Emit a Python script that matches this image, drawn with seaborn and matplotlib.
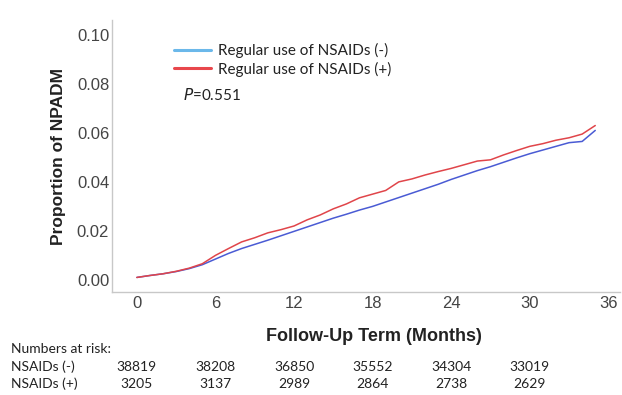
import numpy as np
import pandas as pd
import matplotlib
matplotlib.use("Agg")
import matplotlib.pyplot as plt
from matplotlib.lines import Line2D
from matplotlib.transforms import blended_transform_factory
import seaborn as sns

# Cumulative proportion of NPADM by month of follow-up
months = list(range(36))
nsaids_neg = [0.0010, 0.0018, 0.0025, 0.0034, 0.0046, 0.0062, 0.0085, 0.0108,
              0.0128, 0.0145, 0.0162, 0.0180, 0.0198, 0.0216, 0.0234, 0.0252,
              0.0268, 0.0285, 0.0300, 0.0318, 0.0336, 0.0354, 0.0372, 0.0390,
              0.0410, 0.0428, 0.0446, 0.0462, 0.0480, 0.0498, 0.0515, 0.0530,
              0.0545, 0.0560, 0.0565, 0.0610]
nsaids_pos = [0.0010, 0.0018, 0.0025, 0.0035, 0.0048, 0.0066, 0.0100, 0.0128,
              0.0155, 0.0172, 0.0192, 0.0205, 0.0220, 0.0245, 0.0265, 0.0290,
              0.0310, 0.0335, 0.0350, 0.0365, 0.0400, 0.0412, 0.0428, 0.0442,
              0.0455, 0.0470, 0.0485, 0.0490, 0.0510, 0.0528, 0.0545, 0.0556,
              0.0570, 0.0580, 0.0595, 0.0630]

group_labels = ["Regular use of NSAIDs (-)", "Regular use of NSAIDs (+)"]
risk_rows = ["NSAIDs (-)", "NSAIDs (+)"]
risk_months = [0, 6, 12, 18, 24, 30]
risk_neg = [38819, 38208, 36850, 35552, 34304, 33019]
risk_pos = [3205, 3137, 2989, 2864, 2738, 2629]
x_ticks = [0, 6, 12, 18, 24, 30, 36]
y_ticks = [0.00, 0.02, 0.04, 0.06, 0.08, 0.10]
p_value = "0.551"

df = pd.DataFrame({
    "month": months * 2,
    "prop": nsaids_neg + nsaids_pos,
    "group": [group_labels[0]] * len(months) + [group_labels[1]] * len(months),
})

sns.set_style("white")
plt.rcParams["font.family"] = ["Liberation Sans", "DejaVu Sans"]

line_colors = {group_labels[0]: "#4a5bd4", group_labels[1]: "#e0454a"}
legend_colors = ["#6bb8ea", "#e8474c"]

fig = plt.figure(figsize=(6.22, 3.95), dpi=100)
ax = fig.add_axes([0.180, 0.261, 0.817, 0.688])

sns.lineplot(data=df, x="month", y="prop", hue="group", palette=line_colors,
             linewidth=1.1, ax=ax, legend=False)

ax.set_xlim(-1.9, 36.9)
ax.set_ylim(-0.0049, 0.106)
ax.set_xticks(x_ticks)
ax.set_yticks(y_ticks)
ax.set_xticklabels([str(t) for t in x_ticks])
ax.set_yticklabels([f"{t:.2f}" for t in y_ticks])
ax.tick_params(axis="both", labelsize=12, colors="#444444", length=2,
               direction="in", width=0.6)
ax.tick_params(axis="x", pad=3)
ax.tick_params(axis="y", pad=2)
for side in ("top", "right"):
    ax.spines[side].set_visible(False)
for side in ("left", "bottom"):
    ax.spines[side].set_color("#c8c8c8")
    ax.spines[side].set_linewidth(1.0)

ax.set_xlabel("Follow-Up Term (Months)", fontsize=13, fontweight="bold",
              color="#222222")
ax.xaxis.set_label_coords((374 - 112) / 508, -(337 - 292) / 272, transform=ax.transAxes)
ax.xaxis.label.set_va("center")
ax.set_ylabel("Proportion of NPADM", fontsize=12.5, fontweight="bold",
              color="#222222", labelpad=8)

handles = [Line2D([0], [0], color=c, lw=2.2) for c in legend_colors]
leg = ax.legend(handles, group_labels, loc="upper left",
                bbox_to_anchor=(0.095, 0.965), frameon=False,
                handlelength=2.4, handletextpad=0.5, labelspacing=0.2,
                prop={"family": "Lato", "size": 11})
for t in leg.get_texts():
    t.set_color("#222222")

ax.text((183 - 112) / 508, (292 - 95) / 272, "$P$=" + p_value,
        transform=ax.transAxes, fontsize=11, family="Lato",
        color="#222222", va="center")

# Numbers at risk table under the axis
tr = blended_transform_factory(ax.transData, fig.transFigure)
fig.text(0.018, 1 - 349 / 395, "Numbers at risk:", fontsize=10,
         family="Lato", color="#222222", va="center")
row_y = [1 - 367 / 395, 1 - 384 / 395]
for name, y in zip(risk_rows, row_y):
    fig.text(0.018, y, name, fontsize=10, family="Lato",
             color="#222222", va="center")
for vals, y in zip([risk_neg, risk_pos], row_y):
    for m, v in zip(risk_months, vals):
        ax.text(m, y, str(v), transform=tr, fontsize=10, family="Lato",
                color="#222222", ha="center", va="center", clip_on=False)

fig.savefig("out.png", dpi=100)
